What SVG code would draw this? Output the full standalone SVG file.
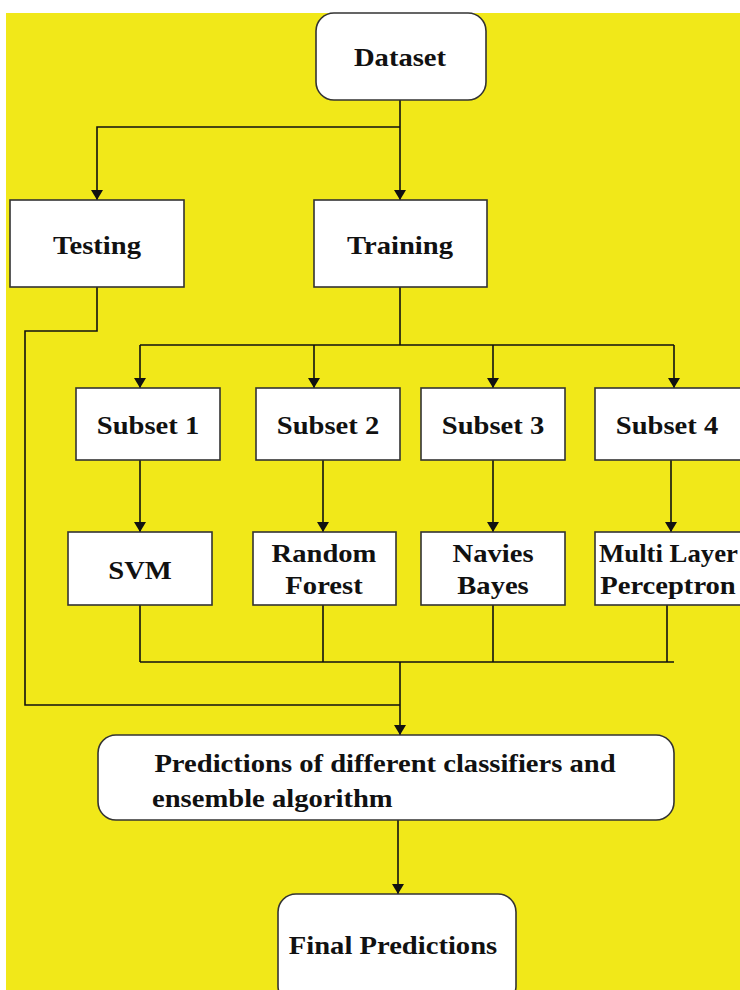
<svg xmlns="http://www.w3.org/2000/svg" width="740" height="990" viewBox="0 0 740 990">
<defs>
<style>
.box{fill:#fff;stroke:#333;stroke-width:1.6}
.t{font-family:"Liberation Serif","Times New Roman",serif;font-weight:bold;font-size:26px;fill:#111;text-anchor:middle;dominant-baseline:central}
.s{text-anchor:start}
.c{fill:none;stroke:#111;stroke-width:1.6}
</style>
<marker id="ah" viewBox="0 0 10 12" refX="10" refY="6" markerWidth="10" markerHeight="12" markerUnits="userSpaceOnUse" orient="auto">
<path d="M0,0 L10,6 L0,12 Z" fill="#111"/>
</marker>
</defs>
<rect x="0" y="0" width="740" height="990" fill="#fff"/>
<rect x="6" y="13" width="734" height="977" fill="#F1E819"/>
<g id="connectors">
<path class="c" d="M400,100 V200" marker-end="url(#ah)"/>
<path class="c" d="M400,127 H97 V200" marker-end="url(#ah)"/>
<path class="c" d="M400,287 V345 M140,345 H674"/>
<path class="c" d="M140,345 V388" marker-end="url(#ah)"/>
<path class="c" d="M314,345 V388" marker-end="url(#ah)"/>
<path class="c" d="M493,345 V388" marker-end="url(#ah)"/>
<path class="c" d="M674,345 V388" marker-end="url(#ah)"/>
<path class="c" d="M140,460 V532" marker-end="url(#ah)"/>
<path class="c" d="M323,460 V532" marker-end="url(#ah)"/>
<path class="c" d="M493,460 V532" marker-end="url(#ah)"/>
<path class="c" d="M671,460 V532" marker-end="url(#ah)"/>
<path class="c" d="M140,605 V662 M323,605 V662 M493,605 V662 M667,605 V662 M140,662 H674"/>
<path class="c" d="M97,287 V331 H25 V705 H400"/>
<path class="c" d="M400,662 V735" marker-end="url(#ah)"/>
<path class="c" d="M398,820 V894" marker-end="url(#ah)"/>
</g>
<g id="dataset"><rect class="box" x="316" y="13" width="170" height="87" rx="18"/><text class="t" transform="translate(400,57) scale(1.1,1)">Dataset</text></g>
<g id="testing"><rect class="box" x="10" y="200" width="174" height="87"/><text class="t" transform="translate(97,245) scale(1.1,1)">Testing</text></g>
<g id="training"><rect class="box" x="314" y="200" width="173" height="87"/><text class="t" transform="translate(400,245) scale(1.1,1)">Training</text></g>
<g id="subset1"><rect class="box" x="76" y="388" width="144" height="72"/><text class="t" transform="translate(148,425) scale(1.1,1)">Subset 1</text></g>
<g id="subset2"><rect class="box" x="256" y="388" width="144" height="72"/><text class="t" transform="translate(328,425) scale(1.1,1)">Subset 2</text></g>
<g id="subset3"><rect class="box" x="421" y="388" width="144" height="72"/><text class="t" transform="translate(493,425) scale(1.1,1)">Subset 3</text></g>
<g id="subset4"><rect class="box" x="595" y="388" width="150" height="72"/><text class="t" transform="translate(667,425) scale(1.1,1)">Subset 4</text></g>
<g id="svm"><rect class="box" x="68" y="532" width="144" height="73"/><text class="t" transform="translate(140,570) scale(1.1,1)">SVM</text></g>
<g id="rf"><rect class="box" x="253" y="532" width="143" height="73"/><text class="t" transform="translate(324,553) scale(1.1,1)">Random</text><text class="t" transform="translate(324,585) scale(1.1,1)">Forest</text></g>
<g id="nb"><rect class="box" x="421" y="532" width="144" height="73"/><text class="t" transform="translate(493,553) scale(1.1,1)">Navies</text><text class="t" transform="translate(493,585) scale(1.1,1)">Bayes</text></g>
<g id="mlp"><rect class="box" x="595" y="532" width="150" height="73"/><text class="t s" transform="translate(599,553) scale(1.03,1)">Multi Layer</text><text class="t" transform="translate(668,585) scale(1.1,1)">Perceptron</text></g>
<g id="predictions"><rect class="box" x="98" y="735" width="576" height="85" rx="18"/><text class="t" transform="translate(385,763) scale(1.1,1)">Predictions of different classifiers and</text><text class="t s" transform="translate(152,798) scale(1.1,1)">ensemble algorithm</text></g>
<g id="final"><rect class="box" x="278" y="894" width="238" height="110" rx="18"/><text class="t" transform="translate(393,945) scale(1.1,1)">Final Predictions</text></g>
</svg>
